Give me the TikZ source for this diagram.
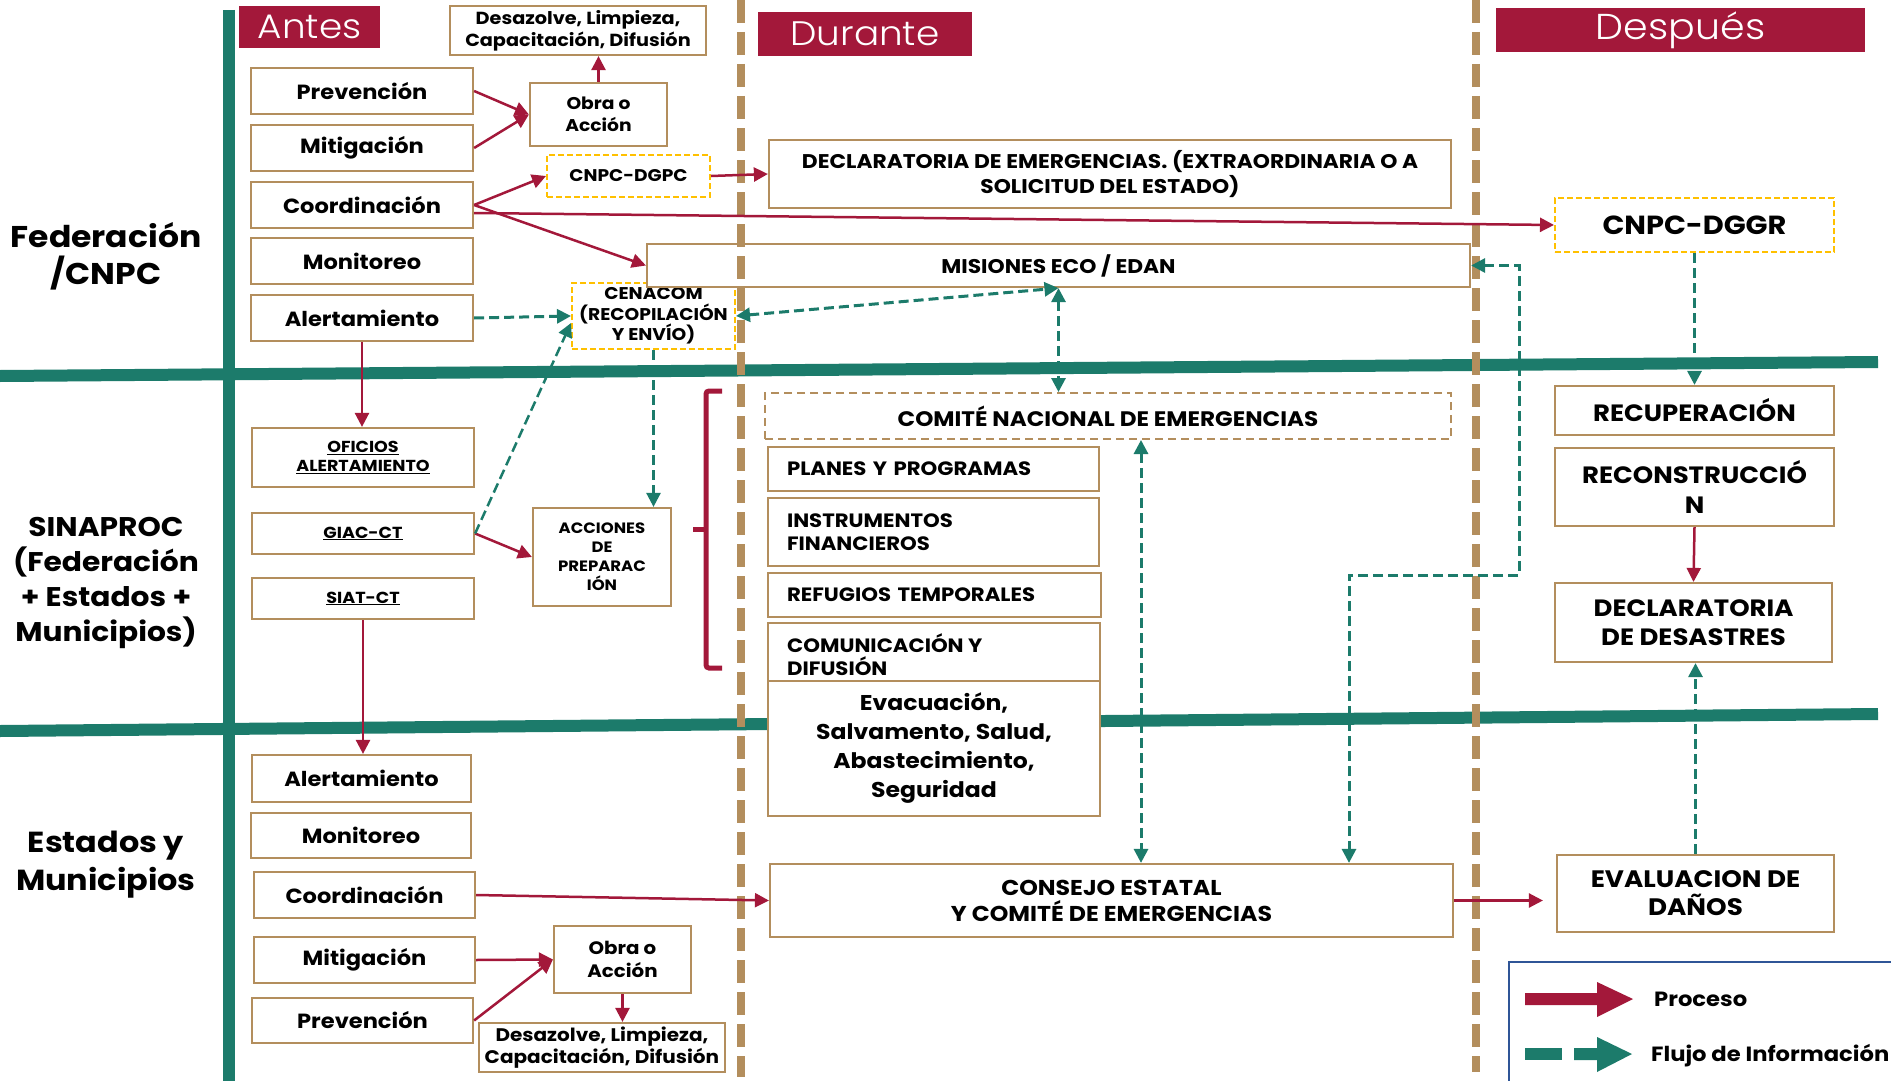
\documentclass[tikz,border=0pt]{standalone}
\usepackage{fontspec}
\setmainfont{Poppins}[FakeStretch=1.1]
\IfFontExistsTF{Poppins Light}{\newfontfamily\hdrfont{Poppins Light}[FakeStretch=1.1]}{\newfontfamily\hdrfont{Poppins}[FakeStretch=1.1]}
\usetikzlibrary{arrows.meta,calc}
\definecolor{maroon}{HTML}{A3183A}
\definecolor{dgreen}{HTML}{1C7B6B}
\definecolor{tanc}{HTML}{B38E5D}
\definecolor{ylw}{HTML}{FFC000}
\definecolor{lgblue}{HTML}{2F5597}
\newcommand\myfs[2]{\fontsize{#1}{#2}\selectfont}
\begin{document}
\begin{tikzpicture}[x=1pt,y=-1pt,
  box/.style={draw=tanc, line width=2.2pt, fill=white, align=center, inner sep=2pt},
  ybox/.style={draw=ylw, line width=2pt, dash pattern=on 6pt off 3pt, fill=white, align=center, inner sep=2pt},
  cbox/.style={draw=tanc, line width=2pt, dash pattern=on 8pt off 5pt, fill=white, align=center, inner sep=2pt},
  lbox/.style={box, align=left, inner xsep=19pt},
  hdr/.style={fill=maroon, text=white, inner sep=0pt},
  lbl/.style={align=center, font=\bfseries\myfs{30}{37}},
  proc/.style={draw=maroon, line width=2.5pt, -{Triangle[length=14pt,width=14pt]}},
  info/.style={draw=dgreen, line width=3pt, dash pattern=on 10pt off 5pt, -{Triangle[length=14pt,width=14pt]}},
  infob/.style={info, {Triangle[length=14pt,width=14pt]}-{Triangle[length=14pt,width=14pt]}},
  sep/.style={draw=dgreen, line width=12pt},
  phase/.style={draw=tanc, line width=8pt, dash pattern=on 23pt off 9pt}
]
\useasboundingbox (0,0) rectangle (1891,1081);
\fill[white] (0,0) rectangle (1891,1081);

% green separators
\draw[sep] (229,10) -- (229,1081);
\draw[sep] (0,376) -- (1878,362);
\draw[sep] (0,731) -- (1878,714);

% headers
\node[hdr, minimum width=141pt, minimum height=42pt, font=\hdrfont\myfs{34}{38}] (antes) at (309.5,27) {Antes};
\node[hdr, minimum width=214pt, minimum height=44pt, font=\hdrfont\myfs{34}{38}] (durante) at (865,34) {Durante};
\node[hdr, minimum width=369pt, minimum height=44pt, font=\hdrfont\myfs{36}{40}] (despues) at (1680.5,30) {Después};

% row labels
\node[lbl] (fed) at (106,256) {Federación\\/CNPC};
\node[lbl, font=\bfseries\myfs{27}{35}] (sina) at (106,583) {SINAPROC\\(Federación\\+ Estados +\\Municipios)};
\node[lbl, font=\bfseries\myfs{29}{38}] (edos) at (106,865) {Estados y\\Municipios};

% Federacion boxes
\begin{scope}[every node/.append style={font=\bfseries\myfs{20.5}{24}}]
\node[box, minimum width=222pt, minimum height=46pt] (prevF) at (362,91) {Prevención};
\node[box, minimum width=222pt, minimum height=46pt] (mitF) at (362,148) {Mitigación};
\node[box, minimum width=222pt, minimum height=46pt] (coorF) at (362,205) {Coordinación};
\node[box, minimum width=222pt, minimum height=46pt] (monF) at (362,261) {Monitoreo};
\node[box, minimum width=222pt, minimum height=46pt] (alertF) at (362,318) {Alertamiento};
\end{scope}
\node[box, minimum width=137pt, minimum height=63pt, font=\bfseries\myfs{17}{22}] (obraF) at (598.5,114.5) {Obra o\\Acción};
\node[box, minimum width=256pt, minimum height=49pt, font=\bfseries\myfs{17.5}{22}] (desF) at (578,30.5) {Desazolve, Limpieza,\\Capacitación, Difusión};
\node[ybox, minimum width=163pt, minimum height=42pt, font=\bfseries\myfs{16.9}{20}] (dgpc) at (628.5,176) {CNPC-DGPC};
\node[ybox, minimum width=163pt, minimum height=66pt, font=\bfseries\myfs{17}{20.5}, inner sep=0pt] (cenacom) at (653.5,316) {CENACOM\\(RECOPILACIÓN\\Y ENVÍO)};
\node[box, minimum width=823pt, minimum height=43pt, font=\bfseries\myfs{19.8}{22}] (misiones) at (1058.5,265.5) {MISIONES ECO / EDAN};
\node[box, minimum width=682pt, minimum height=68pt, font=\bfseries\myfs{19.8}{25}] (declE) at (1110,174) {DECLARATORIA DE EMERGENCIAS. (EXTRAORDINARIA O A\\SOLICITUD DEL ESTADO)};
\node[ybox, minimum width=279pt, minimum height=54pt, font=\bfseries\myfs{26.2}{30}] (dggr) at (1694.5,225) {CNPC-DGGR};

% SINAPROC boxes
\node[box, minimum width=222pt, minimum height=59pt, font=\bfseries\myfs{15.9}{19}] (oficios) at (363,457.5) {\underline{OFICIOS}\\\underline{ALERTAMIENTO}};
\node[box, minimum width=222pt, minimum height=41pt, font=\bfseries\myfs{16}{20}] (giac) at (363,533.5) {\underline{GIAC-CT}};
\node[box, minimum width=222pt, minimum height=41pt, font=\bfseries\myfs{16}{20}] (siat) at (363,598.5) {\underline{SIAT-CT}};
\node[box, minimum width=138pt, minimum height=98pt, font=\bfseries\myfs{15}{19}] (acciones) at (602,557) {ACCIONES\\DE\\PREPARAC\\IÓN};
\node[cbox, minimum width=686pt, minimum height=46pt, font=\bfseries\myfs{21}{22}] (comite) at (1108,416) {COMITÉ NACIONAL DE EMERGENCIAS};
\node[lbox, text width=293pt, minimum height=44pt, font=\bfseries\myfs{19.3}{23}] (planes) at (933.5,469) {PLANES Y PROGRAMAS};
\node[lbox, text width=293pt, minimum height=68pt, font=\bfseries\myfs{19.3}{23}] (instr) at (933.5,532) {INSTRUMENTOS\\FINANCIEROS};
\node[lbox, text width=295pt, minimum height=44pt, font=\bfseries\myfs{19.3}{23}] (refugios) at (934.5,595) {REFUGIOS TEMPORALES};
\node[box, minimum width=332pt, minimum height=58pt] (comun) at (934,652) {};
\node[anchor=north west, align=left, inner sep=0pt, font=\bfseries\myfs{19.3}{23}] (comunT) at (787,633) {COMUNICACIÓN Y\\DIFUSIÓN};
\node[box, minimum width=332pt, minimum height=135pt, font=\bfseries\myfs{21.4}{29}] (evac) at (934,748.5) {Evacuación,\\Salvamento, Salud,\\Abastecimiento,\\Seguridad};

% Despues boxes
\node[box, minimum width=279pt, minimum height=49pt, font=\bfseries\myfs{23.6}{28}] (recup) at (1694.5,410.5) {RECUPERACIÓN};
\node[box, minimum width=279pt, minimum height=78pt, font=\bfseries\myfs{23.6}{30}] (recons) at (1694.5,487) {RECONSTRUCCIÓ\\N};
\node[box, minimum width=277pt, minimum height=79pt, font=\bfseries\myfs{23.6}{29}] (declD) at (1693.5,622.5) {DECLARATORIA\\DE DESASTRES};
\node[box, minimum width=277pt, minimum height=77pt, font=\bfseries\myfs{23.8}{28}] (eval) at (1695.5,893.5) {EVALUACION DE\\DAÑOS};

% Estados boxes
\begin{scope}[every node/.append style={font=\bfseries\myfs{20.5}{24}}]
\node[box, minimum width=219pt, minimum height=47pt] (alertE) at (361.5,778.5) {Alertamiento};
\node[box, minimum width=220pt, minimum height=45pt] (monE) at (361,835.5) {Monitoreo};
\node[box, minimum width=221pt, minimum height=46pt] (coorE) at (364.5,895) {Coordinación};
\node[box, minimum width=221pt, minimum height=46pt] (mitE) at (364.5,960) {Mitigación};
\node[box, minimum width=221pt, minimum height=45pt] (prevE) at (362.5,1020.5) {Prevención};
\end{scope}
\node[box, minimum width=137pt, minimum height=67pt, font=\bfseries\myfs{18}{23}] (obraE) at (622.5,959.5) {Obra o\\Acción};
\node[box, minimum width=246pt, minimum height=49pt, font=\bfseries\myfs{18.2}{22}] (desE) at (602,1047.5) {Desazolve, Limpieza,\\Capacitación, Difusión};
\node[box, minimum width=683pt, minimum height=73pt, font=\bfseries\myfs{21.5}{26}] (consejo) at (1111.5,900.5) {CONSEJO ESTATAL\\Y COMITÉ DE EMERGENCIAS};

% phase separators (tan dashed)
\draw[phase] (741,0) -- (741,1077);
\draw[phase] (1476,0) -- (1476,1072);

% bracket
\draw[draw=maroon, line width=5pt, rounded corners=3pt] (722,391) -- (706,391) -- (706,668) -- (722,668);
\draw[draw=maroon, line width=5pt] (706,529) -- (693,529);

% process arrows
\draw[proc] (prevF.east) -- (obraF.west);
\draw[proc] (mitF.east) -- (obraF.west);
\draw[proc] (obraF.north) -- (obraF.north |- desF.south);
\draw[proc] (coorF.east) -- (dgpc.west);
\draw[proc] ([yshift=-8pt]coorF.east) -- (dggr.west);
\draw[proc] (coorF.east) -- (misiones.west);
\draw[proc] (dgpc.east) -- (declE.west);
\draw[proc] (alertF.south) -- (alertF.south |- oficios.north);
\draw[proc] (giac.east) -- (acciones.west);
\draw[proc] (siat.south) -- (siat.south |- alertE.north);
\draw[proc] (coorE.east) -- (consejo.west);
\draw[proc] (mitE.east) -- (obraE.west);
\draw[proc] (prevE.east) -- (obraE.west);
\draw[proc] (obraE.south) -- (obraE.south |- desE.north);
\draw[proc] (recons.south) -- (declD.north);
\draw[proc, shorten >=13pt] (consejo.east) -- (consejo.east -| eval.west);

% information arrows
\coordinate (c1) at (1141,0);
\coordinate (r1) at (1519,575);
\coordinate (r2) at (1349,575);
\draw[info] (alertF.east) -- (cenacom.west);
\draw[info, line width=2.5pt] (giac.east) -- ([yshift=-7pt]cenacom.west);
\draw[infob] (cenacom.east) -- (misiones.south);
\draw[infob] (misiones.south) -- (misiones.south |- comite.north);
\draw[info, line width=2.5pt] (cenacom.south) -- (cenacom.south |- acciones.north);
\draw[infob] (c1 |- comite.south) -- (c1 |- consejo.north);
\draw[infob] (misiones.east) -| (r1) -- (r2) -- (r2 |- consejo.north);
\draw[info] (dggr.south) -- (recup.north);
\draw[info] (eval.north) -- (eval.north |- declD.south);

% legend
\draw[draw=lgblue, line width=2pt, fill=white] (1509,962) rectangle (1900,1090);
\fill[maroon] (1525,993) -- (1597,993) -- (1597,982) -- (1633,999) -- (1597,1017) -- (1597,1005) -- (1525,1005) -- cycle;
\fill[dgreen] (1525,1048) rectangle (1562,1060);
\fill[dgreen] (1574,1048) -- (1597,1048) -- (1597,1037) -- (1632,1054) -- (1597,1072) -- (1597,1060) -- (1574,1060) -- cycle;
\node[anchor=west, font=\bfseries\myfs{20.6}{24}, inner sep=0pt] (lproc) at (1654,999) {Proceso};
\node[anchor=west, font=\bfseries\myfs{20.6}{24}, inner sep=0pt] (lflujo) at (1651,1056) {Flujo de Información};
\end{tikzpicture}
\end{document}
